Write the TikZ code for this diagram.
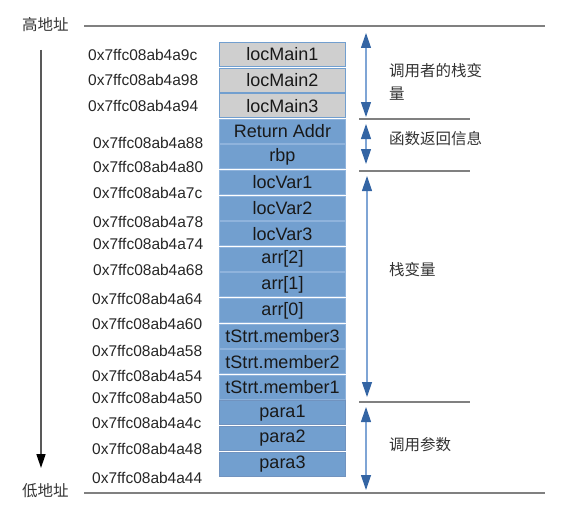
\documentclass[tikz,border=0pt]{standalone}
\usepackage{fontspec}
\setmainfont{Liberation Sans}
\newfontfamily\cjk{Noto Sans CJK SC}
\usetikzlibrary{arrows.meta}
\definecolor{boxblue}{HTML}{729FCF}
\definecolor{boxgrey}{HTML}{CFCFCF}
\definecolor{edgeblue}{HTML}{8FB3DC}
\definecolor{headblue}{HTML}{3465A4}
\definecolor{shaftblue}{HTML}{7FA5D5}
\definecolor{linegrey}{HTML}{808080}
\begin{document}
\begin{tikzpicture}[x=1pt,y=-1pt,
  cell/.style={draw=edgeblue,line width=1pt,fill=boxblue,minimum width=126pt,minimum height=24pt,inner sep=0pt,anchor=north west,font=\fontsize{18}{20}\selectfont,text=black!90},
  greycell/.style={cell,fill=boxgrey,draw=boxblue},
  paracell/.style={cell,draw=headblue!70},
  addr/.style={anchor=west,inner sep=0pt,font=\fontsize{15.5}{17}\selectfont,text=black!85},
  cn/.style={anchor=west,inner sep=0pt,font=\cjk\fontsize{15.5}{23}\selectfont,text=black!80,align=left},
  sep/.style={draw=linegrey,line width=1.2pt},
  span/.style={draw=shaftblue,line width=1.2pt,{Triangle[width=10pt,length=15pt,fill=headblue,color=headblue]}-{Triangle[width=10pt,length=15pt,fill=headblue,color=headblue]}}
]
\useasboundingbox (0,0) rectangle (562,511);
% boxes
\node[greycell] (b1) at (219,42) {locMain1};
\node[greycell] (b2) at (219,67.6) {locMain2};
\node[greycell] (b3) at (219,93.2) {locMain3};
\node[cell] (b4) at (219,118.8) {Return Addr};
\node[cell] (b5) at (219,144.4) {rbp};
\node[cell] (b6) at (219,170) {locVar1};
\node[cell] (b7) at (219,195.6) {locVar2};
\node[cell] (b8) at (219,221.2) {locVar3};
\node[cell] (b9) at (219,246.8) {arr[2]};
\node[cell] (b10) at (219,272.4) {arr[1]};
\node[cell] (b11) at (219,298) {arr[0]};
\node[cell] (b12) at (219,323.6) {tStrt.member3};
\node[cell] (b13) at (219,349.2) {tStrt.member2};
\node[cell] (b14) at (219,374.8) {tStrt.member1};
\node[paracell] (b15) at (219,400.4) {para1};
\node[paracell] (b16) at (219,426) {para2};
\node[paracell] (b17) at (219,451.6) {para3};
% addresses
\node[addr] (a1) at (88,55) {0x7ffc08ab4a9c};
\node[addr] (a2) at (88,80) {0x7ffc08ab4a98};
\node[addr] (a3) at (88,106) {0x7ffc08ab4a94};
\node[addr] (a4) at (93,143) {0x7ffc08ab4a88};
\node[addr] (a5) at (93,167) {0x7ffc08ab4a80};
\node[addr] (a6) at (93,193) {0x7ffc08ab4a7c};
\node[addr] (a7) at (93,222) {0x7ffc08ab4a78};
\node[addr] (a8) at (93,244) {0x7ffc08ab4a74};
\node[addr] (a9) at (93,270) {0x7ffc08ab4a68};
\node[addr] (a10) at (92,299) {0x7ffc08ab4a64};
\node[addr] (a11) at (92,324) {0x7ffc08ab4a60};
\node[addr] (a12) at (92,351) {0x7ffc08ab4a58};
\node[addr] (a13) at (92,376) {0x7ffc08ab4a54};
\node[addr] (a14) at (92,398) {0x7ffc08ab4a50};
\node[addr] (a15) at (92,423) {0x7ffc08ab4a4c};
\node[addr] (a16) at (92,449) {0x7ffc08ab4a48};
\node[addr] (a17) at (92,478) {0x7ffc08ab4a44};
% high / low labels and lines
\node[cn] (hi) at (22,25) {高地址};
\node[cn] (lo) at (22,491) {低地址};
\coordinate (t1) at (84,26);
\coordinate (t2) at (545,26);
\coordinate (u1) at (84,493);
\coordinate (u2) at (545,493);
\draw[sep] (t1) -- (t2);
\draw[sep] (u1) -- (u2);
% direction arrow
\coordinate (d1) at (41,50);
\coordinate (d2) at (41,468);
\draw[draw=black!65,line width=1.5pt,-{Triangle[width=9pt,length=14pt,fill=black,color=black]}] (d1) -- (d2);
% separators
\coordinate (s1a) at (359,119); \coordinate (s1b) at (470,119);
\coordinate (s2a) at (359,171); \coordinate (s2b) at (470,171);
\coordinate (s3a) at (359,402); \coordinate (s3b) at (470,402);
\draw[sep] (s1a) -- (s1b);
\draw[sep] (s2a) -- (s2b);
\draw[sep] (s3a) -- (s3b);
% span arrows
\coordinate (r1a) at (366,33); \coordinate (r1b) at (366,117);
\coordinate (r2a) at (366,124); \coordinate (r2b) at (366,164);
\coordinate (r3a) at (367,176); \coordinate (r3b) at (367,397);
\coordinate (r4a) at (366,407); \coordinate (r4b) at (366,490);
\draw[span] (r1a) -- (r1b);
\draw[span] (r2a) -- (r2b);
\draw[span] (r3a) -- (r3b);
\draw[span] (r4a) -- (r4b);
% group labels
\node[cn] (g1) at (389,81.5) {调用者的栈变\\量};
\node[cn] (g2) at (389,139) {函数返回信息};
\node[cn] (g3) at (389,270) {栈变量};
\node[cn] (g4) at (389,445) {调用参数};
\end{tikzpicture}
\end{document}
